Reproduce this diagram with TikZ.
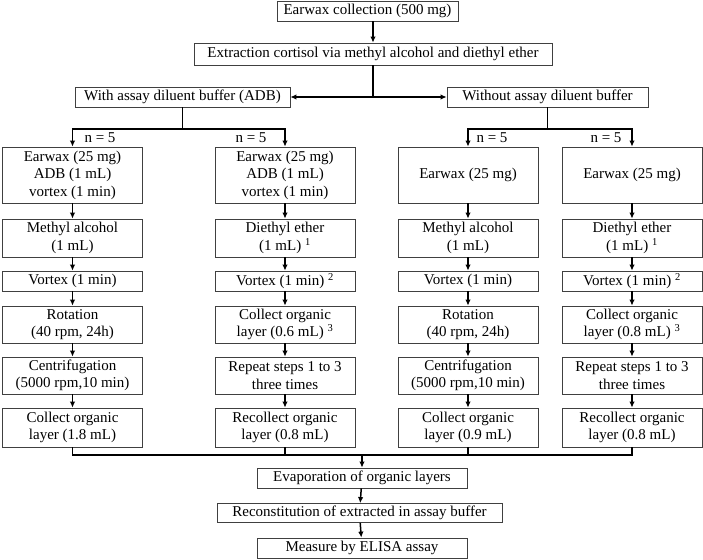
\documentclass[tikz,border=0pt]{standalone}
\usepackage{fontspec}
\setmainfont{Liberation Serif}
\usetikzlibrary{arrows.meta}
\tikzset{
    box/.style={draw=black!75, line width=0.8pt, align=center, inner sep=1pt,
        minimum width=140pt, font=\fontsize{15}{17.5}\selectfont},
    link/.style={line width=1.5pt},
    flow/.style={line width=1.5pt, -{Latex[length=6pt,width=5.5pt]}},
    count/.style={font=\fontsize{15}{17.5}\selectfont, inner sep=0pt}}

\begin{document}
\begin{tikzpicture}[x=1pt, y=-1pt]
    \useasboundingbox (0,0) rectangle (703,559);

    \node[box, minimum width=181pt, minimum height=20pt] (collect) at (367.5,11) {Earwax collection (500 mg)};
    \node[box, minimum width=358pt, minimum height=22pt] (extract) at (373,54) {Extraction cortisol via methyl alcohol and diethyl ether};
    \node[box, minimum width=215pt, minimum height=20pt] (adb) at (182.5,97) {With assay diluent buffer (ADB)};
    \node[box, minimum width=201pt, minimum height=20pt] (noadb) at (547.5,97) {Without assay diluent buffer};

    \node[box, minimum height=56pt] (a1) at (72.5,175) {Earwax (25 mg)\\ADB (1 mL)\\vortex (1 min)};
    \node[box, minimum height=38pt] (a2) at (72.5,238) {Methyl alcohol\\(1 mL)};
    \node[box, minimum height=20pt] (a3) at (72.5,281) {Vortex (1 min)};
    \node[box, minimum height=37pt] (a4) at (72.5,324.5) {Rotation\\(40 rpm, 24h)};
    \node[box, minimum height=37pt] (a5) at (72.5,375.5) {Centrifugation\\(5000 rpm,10 min)};
    \node[box, minimum height=39pt] (a6) at (72.5,427.5) {Collect organic\\layer (1.8 mL)};

    \node[box, minimum height=56pt] (b1) at (285,175) {Earwax (25 mg)\\ADB (1 mL)\\vortex (1 min)};
    \node[box, minimum height=38pt] (b2) at (285,238) {Diethyl ether\\(1 mL) \textsuperscript{1}};
    \node[box, minimum height=20pt] (b3) at (285,281) {Vortex (1 min) \textsuperscript{2}};
    \node[box, minimum height=37pt] (b4) at (285,324.5) {Collect organic\\layer (0.6 mL) \textsuperscript{3}};
    \node[box, minimum height=37pt] (b5) at (285,375.5) {Repeat steps 1 to 3\\three times};
    \node[box, minimum height=39pt] (b6) at (285,427.5) {Recollect organic\\layer (0.8 mL)};

    \node[box, minimum height=56pt] (c1) at (468,175) {Earwax (25 mg)};
    \node[box, minimum height=38pt] (c2) at (468,238) {Methyl alcohol\\(1 mL)};
    \node[box, minimum height=20pt] (c3) at (468,281) {Vortex (1 min)};
    \node[box, minimum height=37pt] (c4) at (468,324.5) {Rotation\\(40 rpm, 24h)};
    \node[box, minimum height=37pt] (c5) at (468,375.5) {Centrifugation\\(5000 rpm,10 min)};
    \node[box, minimum height=39pt] (c6) at (468,427.5) {Collect organic\\layer (0.9 mL)};

    \node[box, minimum height=56pt] (d1) at (632,175) {Earwax (25 mg)};
    \node[box, minimum height=38pt] (d2) at (632,238) {Diethyl ether\\(1 mL) \textsuperscript{1}};
    \node[box, minimum height=20pt] (d3) at (632,281) {Vortex (1 min) \textsuperscript{2}};
    \node[box, minimum height=37pt] (d4) at (632,324.5) {Collect organic\\layer (0.8 mL) \textsuperscript{3}};
    \node[box, minimum height=37pt] (d5) at (632,375.5) {Repeat steps 1 to 3\\three times};
    \node[box, minimum height=39pt] (d6) at (632,427.5) {Recollect organic\\layer (0.8 mL)};

    \node[box, minimum width=210pt, minimum height=20pt] (evap) at (362,478) {Evaporation of organic layers};
    \node[box, minimum width=285pt, minimum height=19pt] (recon) at (359.5,513) {Reconstitution of extracted in assay buffer};
    \node[box, minimum width=210pt, minimum height=20pt] (elisa) at (362,548) {Measure by ELISA assay};

    \coordinate (fork) at (extract.south |- adb.east);
    \coordinate (splitA) at (adb.south |- 0,129);
    \coordinate (splitB) at (noadb.south |- 0,129);
    \coordinate (merge) at (evap.north |- 0,455);

    \draw[flow] (extract.north |- collect.south) -- (extract);
    \draw[link] (extract) -- (fork);
    \draw[flow] (fork) -- (adb);
    \draw[flow] (fork) -- (noadb);

    \draw[link] (adb) -- (splitA);
    \draw[flow] (splitA) -| (a1);
    \draw[flow] (splitA) -| (b1);
    \draw[link] (noadb) -- (splitB);
    \draw[flow] (splitB) -| (c1);
    \draw[flow] (splitB) -| (d1);

    \node[count] (na) at (100,138) {n = 5};
    \node[count] (nb) at (251,138) {n = 5};
    \node[count] (nc) at (492,138) {n = 5};
    \node[count] (nd) at (606,138) {n = 5};

    \foreach \col in {a,b,c,d} {
        \foreach \i [evaluate=\i as \j using int(\i+1)] in {1,...,5}
            \draw[flow] (\col\i) -- (\col\j);
    }

    \draw[link] (a6) -- (a6 |- merge) -- (d6 |- merge) -- (d6);
    \draw[link] (b6) -- (b6 |- merge);
    \draw[link] (c6) -- (c6 |- merge);
    \draw[flow] (merge) -- (evap);
    \draw[flow] (evap) -- (recon);
    \draw[flow] (recon) -- (elisa);
\end{tikzpicture}
\end{document}
